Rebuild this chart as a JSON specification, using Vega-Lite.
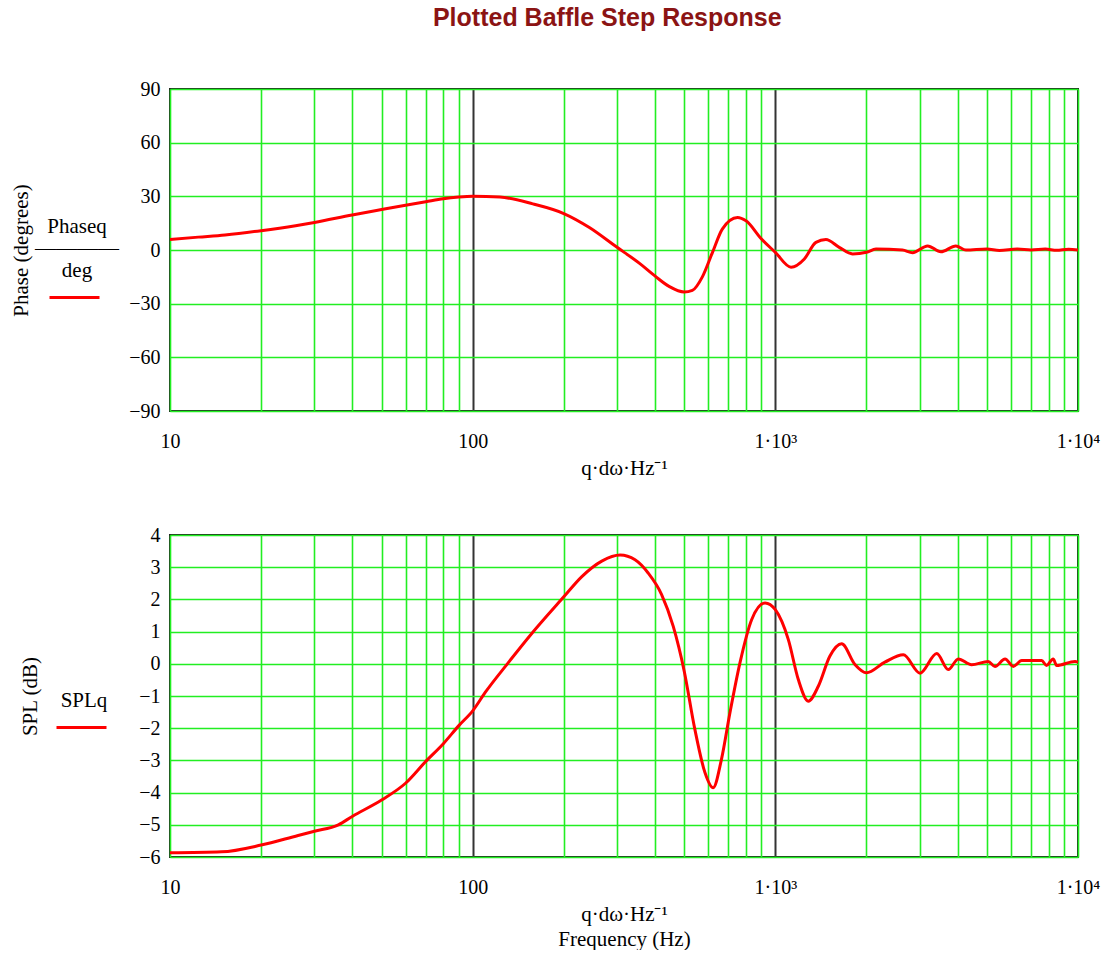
{
  "$schema": "https://vega.github.io/schema/vega-lite/v6.json",
  "background": "white",
  "padding": {"left": 9, "top": 6, "right": 0, "bottom": 0},
  "title": {
    "text": "Plotted Baffle Step Response",
    "font": "Liberation Sans Narrow, Arial Narrow, Liberation Sans, sans-serif",
    "fontSize": 25,
    "fontWeight": "bold",
    "color": "#8b1414",
    "anchor": "middle",
    "offset": 47,
    "dx": 52
  },
  "spacing": 45,
  "resolve": {"scale": {"color": "independent"}, "legend": {"color": "independent"}},
  "config": {
    "view": {"stroke": "#222222", "strokeWidth": 2},
    "axis": {
      "labelFont": "Liberation Serif",
      "labelFontSize": 20,
      "labelColor": "black",
      "titleFont": "Liberation Serif",
      "titleFontSize": 21,
      "titleFontWeight": "normal",
      "titleColor": "black",
      "domain": false,
      "ticks": false,
      "gridOpacity": 1
    },
    "legend": {
      "titleFont": "Liberation Serif",
      "titleFontSize": 21,
      "titleFontWeight": "normal",
      "titleColor": "black",
      "titleAlign": "center",
      "titleAnchor": "middle",
      "symbolType": "stroke",
      "symbolStrokeWidth": 3,
      "symbolSize": 2500
    }
  },
  "datasets": {
    "phase": [
      {"f": 10, "v": 5.9}, {"f": 12.4, "v": 7.2}, {"f": 15.2, "v": 8.4}, {"f": 20, "v": 10.8},
      {"f": 26, "v": 13.6}, {"f": 30, "v": 15.4}, {"f": 40, "v": 19.6}, {"f": 50, "v": 22.6},
      {"f": 60, "v": 25}, {"f": 70, "v": 27}, {"f": 80, "v": 28.7}, {"f": 90, "v": 29.6},
      {"f": 100, "v": 30}, {"f": 123, "v": 29.6}, {"f": 158, "v": 25.8}, {"f": 200, "v": 20.4},
      {"f": 243, "v": 12.6}, {"f": 300, "v": 1.5}, {"f": 356, "v": -7.5}, {"f": 400, "v": -14.5},
      {"f": 447, "v": -20.5}, {"f": 500, "v": -23.5}, {"f": 532, "v": -22.6}, {"f": 574, "v": -15},
      {"f": 620, "v": -1.3}, {"f": 668, "v": 11.7}, {"f": 750, "v": 18.2}, {"f": 800, "v": 16.3},
      {"f": 900, "v": 6.1}, {"f": 1000, "v": -1.3}, {"f": 1127, "v": -9.6}, {"f": 1247, "v": -5},
      {"f": 1362, "v": 4.3}, {"f": 1469, "v": 5.8}, {"f": 1626, "v": 1.5}, {"f": 1800, "v": -2.2},
      {"f": 2000, "v": -1.3}, {"f": 2150, "v": 0.5}, {"f": 2630, "v": 0}, {"f": 2840, "v": -1.5},
      {"f": 3185, "v": 2.3}, {"f": 3524, "v": -1}, {"f": 3948, "v": 2.3}, {"f": 4264, "v": 0},
      {"f": 5000, "v": 0.6}, {"f": 5500, "v": -0.3}, {"f": 6300, "v": 0.5}, {"f": 7000, "v": 0},
      {"f": 7800, "v": 0.5}, {"f": 8500, "v": -0.2}, {"f": 9300, "v": 0.4}, {"f": 10000, "v": 0}
    ],
    "spl": [
      {"f": 10, "v": -5.87}, {"f": 14.8, "v": -5.84}, {"f": 20, "v": -5.63}, {"f": 26.5, "v": -5.33},
      {"f": 30, "v": -5.2}, {"f": 36, "v": -5.0}, {"f": 40, "v": -4.74}, {"f": 50, "v": -4.23},
      {"f": 60, "v": -3.71}, {"f": 70, "v": -3.03}, {"f": 80, "v": -2.48}, {"f": 90, "v": -1.92},
      {"f": 100, "v": -1.46}, {"f": 110, "v": -0.89}, {"f": 131, "v": 0.03}, {"f": 157, "v": 0.95},
      {"f": 200, "v": 2.08}, {"f": 229, "v": 2.7}, {"f": 267, "v": 3.19}, {"f": 307, "v": 3.38},
      {"f": 344, "v": 3.23}, {"f": 380, "v": 2.82}, {"f": 421, "v": 2.15}, {"f": 460, "v": 1.16},
      {"f": 500, "v": -0.23}, {"f": 542, "v": -2.03}, {"f": 585, "v": -3.37}, {"f": 623, "v": -3.85},
      {"f": 664, "v": -2.96}, {"f": 708, "v": -1.52}, {"f": 764, "v": 0.03}, {"f": 835, "v": 1.37},
      {"f": 925, "v": 1.89}, {"f": 1000, "v": 1.68}, {"f": 1104, "v": 0.75}, {"f": 1191, "v": -0.49},
      {"f": 1285, "v": -1.16}, {"f": 1388, "v": -0.69}, {"f": 1515, "v": 0.24}, {"f": 1656, "v": 0.62},
      {"f": 1832, "v": -0.02}, {"f": 2000, "v": -0.28}, {"f": 2300, "v": 0.05}, {"f": 2648, "v": 0.28},
      {"f": 3008, "v": -0.29}, {"f": 3414, "v": 0.32}, {"f": 3728, "v": -0.18}, {"f": 4022, "v": 0.15},
      {"f": 4450, "v": -0.03}, {"f": 5050, "v": 0.07}, {"f": 5317, "v": -0.08}, {"f": 5742, "v": 0.15},
      {"f": 6114, "v": -0.08}, {"f": 6516, "v": 0.1}, {"f": 7586, "v": 0.1}, {"f": 7870, "v": -0.05},
      {"f": 8280, "v": 0.15}, {"f": 8500, "v": -0.05}, {"f": 9775, "v": 0.07}, {"f": 10000, "v": 0.05}
    ]
  },
  "vconcat": [
    {
      "width": 908,
      "height": 322,
      "data": {"name": "phase"},
      "mark": {"type": "line", "strokeWidth": 3, "interpolate": "monotone"},
      "encoding": {
        "x": {
          "field": "f",
          "type": "quantitative",
          "scale": {"type": "log", "domain": [10, 10000], "nice": false},
          "axis": {
            "values": [10, 20, 30, 40, 50, 60, 70, 80, 90, 100, 200, 300, 400, 500, 600, 700, 800, 900, 1000, 2000, 3000, 4000, 5000, 6000, 7000, 8000, 9000, 10000],
            "labelExpr": "datum.value == 10 ? '10' : datum.value == 100 ? '100' : datum.value == 1000 ? '1·10³' : datum.value == 10000 ? '1·10⁴' : ''",
            "labelFlush": false,
            "labelPadding": 20,
            "title": "q·dω·Hz⁻¹",
            "titlePadding": 6,
            "gridColor": {"condition": {"test": "datum.value == 100 || datum.value == 1000", "value": "#333333"}, "value": "#22ee22"},
            "gridWidth": {"condition": {"test": "datum.value == 100 || datum.value == 1000", "value": 2}, "value": 1.6}
          }
        },
        "y": {
          "field": "v",
          "type": "quantitative",
          "scale": {"domain": [-90, 90], "nice": false},
          "axis": {
            "values": [-90, -60, -30, 0, 30, 60, 90],
            "labelPadding": 10,
            "title": "Phase (degrees)",
            "titlePadding": 97,
            "gridColor": "#22ee22",
            "gridWidth": 1.6
          }
        },
        "color": {
          "datum": "Phase",
          "scale": {"range": ["#ff0000"]},
          "legend": {
            "orient": "none",
            "legendX": -135,
            "legendY": 127,
            "title": ["Phaseq", "————", "deg"],
            "titleLineHeight": 22,
            "titlePadding": -10,
            "labelExpr": "''",
            "labelFontSize": 1
          }
        }
      }
    },
    {
      "width": 908,
      "height": 322,
      "data": {"name": "spl"},
      "mark": {"type": "line", "strokeWidth": 3, "interpolate": "monotone"},
      "encoding": {
        "x": {
          "field": "f",
          "type": "quantitative",
          "scale": {"type": "log", "domain": [10, 10000], "nice": false},
          "axis": {
            "values": [10, 20, 30, 40, 50, 60, 70, 80, 90, 100, 200, 300, 400, 500, 600, 700, 800, 900, 1000, 2000, 3000, 4000, 5000, 6000, 7000, 8000, 9000, 10000],
            "labelExpr": "datum.value == 10 ? '10' : datum.value == 100 ? '100' : datum.value == 1000 ? '1·10³' : datum.value == 10000 ? '1·10⁴' : ''",
            "labelFlush": false,
            "labelPadding": 20,
            "title": ["q·dω·Hz⁻¹", "Frequency (Hz)"],
            "titleLineHeight": 25,
            "titlePadding": 6,
            "gridColor": {"condition": {"test": "datum.value == 100 || datum.value == 1000", "value": "#333333"}, "value": "#22ee22"},
            "gridWidth": {"condition": {"test": "datum.value == 100 || datum.value == 1000", "value": 2}, "value": 1.6}
          }
        },
        "y": {
          "field": "v",
          "type": "quantitative",
          "scale": {"domain": [-6, 4], "nice": false},
          "axis": {
            "values": [-6, -5, -4, -3, -2, -1, 0, 1, 2, 3, 4],
            "labelPadding": 10,
            "title": "SPL (dB)",
            "titlePadding": 98,
            "gridColor": "#22ee22",
            "gridWidth": 1.6
          }
        },
        "color": {
          "datum": "SPL",
          "scale": {"range": ["#ff0000"]},
          "legend": {
            "orient": "none",
            "legendX": -115,
            "legendY": 155,
            "title": "SPLq",
            "titlePadding": -10,
            "labelExpr": "''",
            "labelFontSize": 1
          }
        }
      }
    }
  ]
}
